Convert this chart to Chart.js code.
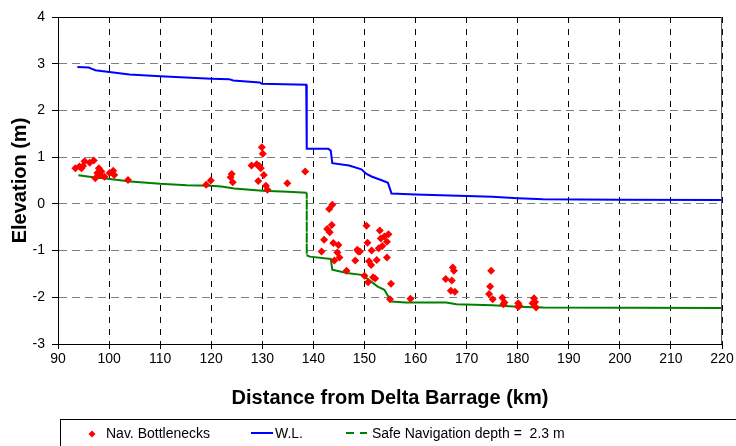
<!DOCTYPE html>
<html>
<head>
<meta charset="utf-8">
<script src="https://cdn.jsdelivr.net/npm/chart.js@4.4.0/dist/chart.umd.min.js"></script>
<style>
  html, body { margin: 0; padding: 0; background: #fff; }
  canvas { display: block; }
</style>
</head>
<body>
<canvas id="grafico" width="736" height="446"></canvas>
<script>
// ===== Dados =====
const bottleneckKm = [
  93.4, 94.2, 94.6, 94.9, 95.2, 96.2, 97.0, 97.3, 97.7, 98.0, 98.2, 98.5, 99.1, 100.1, 100.8, 101.0, 103.7,
  119.0, 119.9, 123.8, 124.0, 124.2, 127.9, 128.9, 129.2, 129.4, 129.7, 129.9, 130.1, 130.3, 130.7, 131.0, 134.9, 138.4,
  141.6, 142.1, 142.7, 143.1, 143.2, 143.6, 143.7, 143.9, 144.1, 144.7, 144.9, 145.1, 146.5, 148.2, 148.6, 148.8, 149.1,
  150.0, 150.4, 150.6, 150.7, 150.9, 151.3, 151.4, 151.7, 152.1, 152.4, 152.8, 153.0, 153.2, 153.5, 153.9, 154.4, 154.4,
  154.7, 155.0, 155.2,
  159.0, 165.9, 166.9, 167.1, 167.3, 167.5, 167.7, 174.4, 174.6, 174.8, 175.1, 177.0, 177.2, 177.4,
  180.1, 180.1, 180.3, 182.9, 183.2, 183.4, 183.6
];
const bottleneckElev = [
  0.76, 0.80, 0.76, 0.81, 0.91, 0.88, 0.93, 0.55, 0.66, 0.76, 0.62, 0.69, 0.58, 0.66, 0.71, 0.62, 0.51,
  0.41, 0.50, 0.57, 0.64, 0.46, 0.82, 0.85, 0.49, 0.81, 0.76, 1.21, 1.07, 0.62, 0.39, 0.30, 0.44, 0.69,
  -1.02, -0.77, -0.54, -0.11, -0.61, -0.45, -0.02, -0.84, -1.21, -1.04, -0.88, -1.15, -1.43, -1.21, -0.98, -1.02, -1.02,
  -1.54, -0.47, -0.83, -1.68, -1.23, -1.31, -1.00, -1.57, -1.60, -1.20, -0.95, -0.57, -0.74, -0.90, -0.70, -0.81, -1.15,
  -0.65, -2.04, -1.71,
  -2.03, -1.61, -1.86, -1.64, -1.36, -1.43, -1.88, -1.93, -1.77, -1.43, -2.04, -2.01, -2.15, -2.11,
  -2.13, -2.20, -2.18, -2.13, -2.02, -2.10, -2.22
];

const wlKm = [93.8, 96.0, 96.9, 97.3, 104.0, 110.0, 120.0, 123.5, 124.3, 129.5, 129.9, 138.6, 138.7, 142.9, 143.4, 143.7,
  147.0, 149.4, 150.4, 151.5, 153.5, 154.6, 155.3, 160.0, 170.0, 175.0, 180.0, 185.0, 200.0, 220.0];
const wlElev = [2.93, 2.92, 2.88, 2.86, 2.77, 2.73, 2.68, 2.67, 2.64, 2.60, 2.57, 2.55, 1.18, 1.18, 1.14, 0.87,
  0.82, 0.74, 0.64, 0.58, 0.50, 0.45, 0.22, 0.20, 0.17, 0.15, 0.12, 0.10, 0.09, 0.08];

const safeKm = [94.0, 96.9, 100.2, 104.1, 110.0, 115.2, 119.8, 122.0, 124.5, 130.0, 135.0, 138.7, 138.7, 139.3, 143.4,
  143.7, 146.5, 149.4, 150.4, 152.6, 153.9, 154.6, 155.3, 158.0, 166.0, 168.0, 175.0, 180.0, 185.0, 220.0];
const safeElev = [0.61, 0.57, 0.53, 0.48, 0.43, 0.40, 0.385, 0.37, 0.33, 0.28, 0.26, 0.24, -1.10, -1.13, -1.18,
  -1.41, -1.48, -1.52, -1.59, -1.77, -1.84, -1.97, -2.09, -2.11, -2.11, -2.15, -2.17, -2.20, -2.22, -2.23];

const xMin = 90, xMax = 220, xStep = 10;
const yMin = -3, yMax = 4, yStep = 1;

const paraPontos = (xs, ys) => xs.map((x, i) => ({ x: x, y: ys[i] }));

Chart.defaults.font.family = '"Liberation Sans", Arial, sans-serif';
Chart.defaults.color = '#000';

// ===== Moldura (topo e direita) =====
const molduraPlugin = {
    id: 'moldura',
    afterDraw(chart) {
        const { ctx, chartArea: a } = chart;
        ctx.save();
        ctx.lineWidth = 1;
        ctx.strokeStyle = '#000';
        ctx.beginPath();
        ctx.moveTo(a.left, a.top + 0.5);
        ctx.lineTo(a.right, a.top + 0.5);
        ctx.stroke();
        ctx.strokeStyle = '#555';
        ctx.beginPath();
        ctx.moveTo(a.right - 0.5, a.top);
        ctx.lineTo(a.right - 0.5, a.bottom);
        ctx.stroke();
        ctx.restore();
    }
};

// ===== Legenda em caixa =====
const legendaPlugin = {
    id: 'legendaCaixa',
    afterDraw(chart) {
        const ctx = chart.ctx;
        const ds = chart.data.datasets;
        const cy = 434;
        ctx.save();
        ctx.strokeStyle = '#000';
        ctx.lineWidth = 1;
        ctx.strokeRect(60.5, 419.5, 700, 40);
        ctx.font = '14px "Liberation Sans", Arial, sans-serif';
        ctx.fillStyle = '#000';
        ctx.textBaseline = 'middle';

        // Nav. Bottlenecks
        ctx.fillStyle = ds[0].backgroundColor;
        ctx.beginPath();
        ctx.moveTo(92, cy - 3.5); ctx.lineTo(95.5, cy); ctx.lineTo(92, cy + 3.5); ctx.lineTo(88.5, cy);
        ctx.closePath(); ctx.fill();
        ctx.fillStyle = '#000';
        ctx.fillText(ds[0].label, 106, cy);

        // W.L.
        ctx.strokeStyle = ds[1].borderColor;
        ctx.lineWidth = 2;
        ctx.beginPath(); ctx.moveTo(251, cy - 1); ctx.lineTo(273, cy - 1); ctx.stroke();
        ctx.fillText(ds[1].label, 275, cy);

        // Safe Navigation depth
        ctx.strokeStyle = ds[2].borderColor;
        ctx.setLineDash([8, 6]);
        ctx.beginPath(); ctx.moveTo(346, cy - 1); ctx.lineTo(367, cy - 1); ctx.stroke();
        ctx.setLineDash([]);
        ctx.fillText(ds[2].label, 372, cy);
        ctx.restore();
    }
};

const grafico = new Chart(document.getElementById('grafico').getContext('2d'), {
    type: 'scatter',
    data: {
        datasets: [
            {
                label: 'Nav. Bottlenecks',
                data: paraPontos(bottleneckKm, bottleneckElev),
                pointStyle: 'rectRot',
                pointRadius: 4,
                backgroundColor: '#ff0000',
                borderColor: '#ff0000',
                borderWidth: 0,
                order: 0
            },
            {
                label: 'W.L.',
                data: paraPontos(wlKm, wlElev),
                showLine: true,
                borderColor: '#0000ff',
                backgroundColor: '#0000ff',
                borderWidth: 2,
                pointRadius: 0,
                tension: 0,
                order: 2
            },
            {
                label: 'Safe Navigation depth =  2.3 m',
                data: paraPontos(safeKm, safeElev),
                showLine: true,
                borderColor: '#008000',
                backgroundColor: '#008000',
                borderWidth: 2,
                pointRadius: 0,
                tension: 0,
                order: 1,
                segment: {
                    borderDash: c => (c.p0.parsed.x === c.p1.parsed.x ? [6, 5] : undefined)
                }
            }
        ]
    },
    options: {
        responsive: false,
        animation: false,
        layout: { padding: { top: 17, right: 14, bottom: 36, left: 0 } },
        plugins: {
            legend: { display: false },
            tooltip: { enabled: false }
        },
        scales: {
            x: {
                type: 'linear',
                min: xMin, max: xMax,
                afterFit: s => { s.height = 66; },
                ticks: { stepSize: xStep, padding: 2, font: { size: 14 }, maxRotation: 0 },
                grid: { color: '#000', tickColor: '#000', tickLength: 5 },
                border: { color: '#000', width: 1, dash: [6, 6] },
                title: {
                    display: true,
                    text: 'Distance from Delta Barrage (km)',
                    font: { size: 20, weight: 'bold' },
                    padding: { top: 0, bottom: 0 }
                }
            },
            y: {
                min: yMin, max: yMax,
                afterFit: s => { s.width = 58; },
                ticks: { stepSize: yStep, padding: 7, font: { size: 14 } },
                grid: { color: '#808080', tickColor: '#000', tickLength: 6 },
                border: { color: '#000', width: 1, dash: [8, 5] },
                title: {
                    display: true,
                    text: 'Elevation (m)',
                    font: { size: 20, weight: 'bold' },
                    padding: { top: 8, bottom: 0 }
                }
            }
        }
    },
    plugins: [molduraPlugin, legendaPlugin]
});
</script>
</body>
</html>
